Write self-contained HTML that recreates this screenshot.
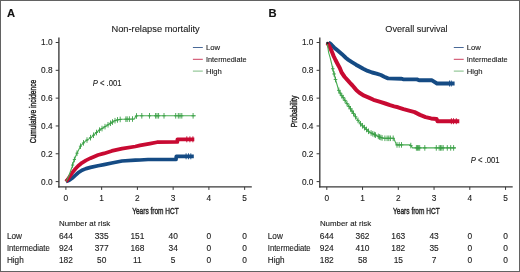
<!DOCTYPE html>
<html><head><meta charset="utf-8"><style>
html,body{margin:0;padding:0;background:#fff;}
body{width:520px;height:272px;overflow:hidden;}
svg{display:block;font-family:"Liberation Sans", sans-serif;will-change:transform;}
</style></head><body>
<svg width="520" height="272" viewBox="0 0 520 272">
<rect x="0" y="0" width="520" height="272" fill="#fff"/>
<path d="M58.9 37.4 V187.6" stroke="#383838" stroke-width="1.35" fill="none"/>
<path d="M58.2 186.9 H251.8" stroke="#383838" stroke-width="1.35" fill="none"/>
<text x="52.6" y="184.55" font-size="8.3" text-anchor="end" fill="#222" stroke="#222" stroke-width="0.12">0.0</text>
<text x="52.6" y="156.73" font-size="8.3" text-anchor="end" fill="#222" stroke="#222" stroke-width="0.12">0.2</text>
<text x="52.6" y="128.91" font-size="8.3" text-anchor="end" fill="#222" stroke="#222" stroke-width="0.12">0.4</text>
<text x="52.6" y="101.09" font-size="8.3" text-anchor="end" fill="#222" stroke="#222" stroke-width="0.12">0.6</text>
<text x="52.6" y="73.27" font-size="8.3" text-anchor="end" fill="#222" stroke="#222" stroke-width="0.12">0.8</text>
<text x="52.6" y="45.45" font-size="8.3" text-anchor="end" fill="#222" stroke="#222" stroke-width="0.12">1.0</text>
<text x="65.9" y="200.5" font-size="8.3" text-anchor="middle" fill="#222" stroke="#222" stroke-width="0.12">0</text>
<text x="101.65" y="200.5" font-size="8.3" text-anchor="middle" fill="#222" stroke="#222" stroke-width="0.12">1</text>
<text x="137.4" y="200.5" font-size="8.3" text-anchor="middle" fill="#222" stroke="#222" stroke-width="0.12">2</text>
<text x="173.15" y="200.5" font-size="8.3" text-anchor="middle" fill="#222" stroke="#222" stroke-width="0.12">3</text>
<text x="208.9" y="200.5" font-size="8.3" text-anchor="middle" fill="#222" stroke="#222" stroke-width="0.12">4</text>
<text x="244.65" y="200.5" font-size="8.3" text-anchor="middle" fill="#222" stroke="#222" stroke-width="0.12">5</text>
<path d="M55.7 181.6 H58.9 M55.7 153.78 H58.9 M55.7 125.96 H58.9 M55.7 98.14 H58.9 M55.7 70.32 H58.9 M55.7 42.5 H58.9 M65.9 186.9 V189.9 M101.65 186.9 V189.9 M137.4 186.9 V189.9 M173.15 186.9 V189.9 M208.9 186.9 V189.9 M244.65 186.9 V189.9" stroke="#383838" stroke-width="1" fill="none"/>
<text x="132.2" y="213.8" font-size="9.6" textLength="46.6" lengthAdjust="spacingAndGlyphs" fill="#222" stroke="#222" stroke-width="0.4">Years from HCT</text>
<g transform="translate(36 111.5) rotate(-90)"><text x="0" y="0" font-size="9.5" text-anchor="middle" textLength="63.5" lengthAdjust="spacingAndGlyphs" fill="#222" stroke="#222" stroke-width="0.4">Cumulative incidence</text></g>
<text x="155.6" y="31.9" font-size="9.9" text-anchor="middle" textLength="88.2" lengthAdjust="spacingAndGlyphs" fill="#222" stroke="#222" stroke-width="0.12">Non-relapse mortality</text>
<path d="M192.9 47.5 H202.8" stroke="#4a6a98" stroke-width="1.0" fill="none"/>
<text x="205.9" y="50.1" font-size="7.7" fill="#222" stroke="#222" stroke-width="0.12">Low</text>
<path d="M192.9 59.3 H202.8" stroke="#cc3f5e" stroke-width="1.0" fill="none"/>
<text x="205.9" y="61.9" font-size="7.7" textLength="40.8" lengthAdjust="spacingAndGlyphs" fill="#222" stroke="#222" stroke-width="0.12">Intermediate</text>
<path d="M192.9 71.1 H202.8" stroke="#7fbd83" stroke-width="1.0" fill="none"/>
<text x="205.9" y="73.7" font-size="7.7" fill="#222" stroke="#222" stroke-width="0.12">High</text>
<path d="M65.9 181.6 L68 180.8 L70.2 179.6 L72.3 178 L75.5 175.2 L78.1 172.8 L82 170.2 L86 168.6 L90.5 167.4 L98 165.7 L104 164.6 L111.8 163 L122 161 L135.3 160.2 L140 160 L148 159.5 L176 159.5 L176.3 156.3 L193.8 156.3" fill="none" stroke="#154b84" stroke-width="3.7" stroke-linejoin="round" stroke-linecap="butt"/>
<path d="M65.9 181.6 L67.5 179.8 L69.4 176.9 L71.1 174.4 L72.8 172 L75.5 168.8 L78.1 166 L82 162.8 L86 160.4 L90.5 158.2 L98 155 L104 153.4 L111.8 150.9 L122 148.6 L135.3 146.5 L140 145.4 L150 143.6 L157 142.2 L177.4 142 L177.4 139.3 L194.3 139.3" fill="none" stroke="#c80a32" stroke-width="3.7" stroke-linejoin="round" stroke-linecap="butt"/>
<path d="M65.9 181.6 L67.2 179.2 L69 175.5 L70.6 171 L72.2 166.5 L73.6 161.5 L75 158 L76.6 154 L78.6 150 L80.6 146 L83 143.3 L86 140.7 L89.2 138.6 L92 136.6 L94.1 134.7 L98.2 131 L102.4 128.3 L106.5 125.7 L110.6 123.2 L114 121.1 L117 120 L121 119.3 L134.5 119 L135.6 116.3 L137 115.8 L195.8 115.8" fill="none" stroke="#48ad52" stroke-width="1.1" stroke-linejoin="round" stroke-linecap="butt"/>
<path d="M72.6 162.27 V167.87 M71 165.07 H74.2 M74.4 156.7 V162.3 M72.8 159.5 H76 M77 150.4 V156 M75.4 153.2 H78.6 M80.5 143.4 V149 M78.9 146.2 H82.1 M83.5 140.07 V145.67 M81.9 142.87 H85.1 M87 137.24 V142.84 M85.4 140.04 H88.6 M90.5 134.87 V140.47 M88.9 137.67 H92.1 M93.5 132.44 V138.04 M91.9 135.24 H95.1 M96.5 129.73 V135.33 M94.9 132.53 H98.1 M99.5 127.36 V132.96 M97.9 130.16 H101.1 M102 125.76 V131.36 M100.4 128.56 H103.6 M105 123.85 V129.45 M103.4 126.65 H106.6 M108 121.99 V127.59 M106.4 124.79 H109.6 M110.5 120.46 V126.06 M108.9 123.26 H112.1 M112.5 119.23 V124.83 M110.9 122.03 H114.1 M115 117.93 V123.53 M113.4 120.73 H116.6 M117.5 117.11 V122.71 M115.9 119.91 H119.1 M120.2 116.64 V122.24 M118.6 119.44 H121.8 M125.9 116.39 V121.99 M124.3 119.19 H127.5 M127.2 116.36 V121.96 M125.6 119.16 H128.8 M129.4 116.31 V121.91 M127.8 119.11 H131 M132.5 116.24 V121.84 M130.9 119.04 H134.1 M136.5 113.18 V118.78 M134.9 115.98 H138.1 M141.8 113 V118.6 M140.2 115.8 H143.4 M149.5 113 V118.6 M147.9 115.8 H151.1 M155.6 113 V118.6 M154 115.8 H157.2 M157 113 V118.6 M155.4 115.8 H158.6 M158.6 113 V118.6 M157 115.8 H160.2 M164 113 V118.6 M162.4 115.8 H165.6 M175.7 113 V118.6 M174.1 115.8 H177.3 M178.3 113 V118.6 M176.7 115.8 H179.9 M180 113 V118.6 M178.4 115.8 H181.6 M181.8 113 V118.6 M180.2 115.8 H183.4 M193.1 113 V118.6 M191.5 115.8 H194.7" stroke="#3a9f46" stroke-width="0.9" fill="none"/>
<path d="M186.8 136.3 V142.3 M189.9 136.3 V142.3 M192.9 136.3 V142.3" stroke="#c80a32" stroke-width="0.9" fill="none"/>
<path d="M186.1 153.3 V159.3 M188.5 153.3 V159.3 M190.8 153.3 V159.3" stroke="#154b84" stroke-width="0.9" fill="none"/>
<text x="92.7" y="85.8" font-size="8.3" fill="#222" stroke="#222" stroke-width="0.12" textLength="28.8" lengthAdjust="spacingAndGlyphs"><tspan font-style="italic">P</tspan> &lt; .001</text>
<text x="59" y="226" font-size="7.9" fill="#222" stroke="#222" stroke-width="0.12">Number at risk</text>
<text x="6.9" y="238.6" font-size="8.2" fill="#222" stroke="#222" stroke-width="0.12">Low</text>
<text x="65.9" y="238.6" font-size="8.4" text-anchor="middle" fill="#222" stroke="#222" stroke-width="0.12">644</text>
<text x="101.65" y="238.6" font-size="8.4" text-anchor="middle" fill="#222" stroke="#222" stroke-width="0.12">335</text>
<text x="137.4" y="238.6" font-size="8.4" text-anchor="middle" fill="#222" stroke="#222" stroke-width="0.12">151</text>
<text x="173.15" y="238.6" font-size="8.4" text-anchor="middle" fill="#222" stroke="#222" stroke-width="0.12">40</text>
<text x="208.9" y="238.6" font-size="8.4" text-anchor="middle" fill="#222" stroke="#222" stroke-width="0.12">0</text>
<text x="244.65" y="238.6" font-size="8.4" text-anchor="middle" fill="#222" stroke="#222" stroke-width="0.12">0</text>
<text x="6.9" y="250.55" font-size="8.2" textLength="42.8" lengthAdjust="spacingAndGlyphs" fill="#222" stroke="#222" stroke-width="0.12">Intermediate</text>
<text x="65.9" y="250.55" font-size="8.4" text-anchor="middle" fill="#222" stroke="#222" stroke-width="0.12">924</text>
<text x="101.65" y="250.55" font-size="8.4" text-anchor="middle" fill="#222" stroke="#222" stroke-width="0.12">377</text>
<text x="137.4" y="250.55" font-size="8.4" text-anchor="middle" fill="#222" stroke="#222" stroke-width="0.12">168</text>
<text x="173.15" y="250.55" font-size="8.4" text-anchor="middle" fill="#222" stroke="#222" stroke-width="0.12">34</text>
<text x="208.9" y="250.55" font-size="8.4" text-anchor="middle" fill="#222" stroke="#222" stroke-width="0.12">0</text>
<text x="244.65" y="250.55" font-size="8.4" text-anchor="middle" fill="#222" stroke="#222" stroke-width="0.12">0</text>
<text x="6.9" y="262.5" font-size="8.2" fill="#222" stroke="#222" stroke-width="0.12">High</text>
<text x="65.9" y="262.5" font-size="8.4" text-anchor="middle" fill="#222" stroke="#222" stroke-width="0.12">182</text>
<text x="101.65" y="262.5" font-size="8.4" text-anchor="middle" fill="#222" stroke="#222" stroke-width="0.12">50</text>
<text x="137.4" y="262.5" font-size="8.4" text-anchor="middle" fill="#222" stroke="#222" stroke-width="0.12">11</text>
<text x="173.15" y="262.5" font-size="8.4" text-anchor="middle" fill="#222" stroke="#222" stroke-width="0.12">5</text>
<text x="208.9" y="262.5" font-size="8.4" text-anchor="middle" fill="#222" stroke="#222" stroke-width="0.12">0</text>
<text x="244.65" y="262.5" font-size="8.4" text-anchor="middle" fill="#222" stroke="#222" stroke-width="0.12">0</text>
<path d="M319.8 37.4 V187.6" stroke="#383838" stroke-width="1.35" fill="none"/>
<path d="M319.1 186.9 H512.7" stroke="#383838" stroke-width="1.35" fill="none"/>
<text x="313.5" y="184.55" font-size="8.3" text-anchor="end" fill="#222" stroke="#222" stroke-width="0.12">0.0</text>
<text x="313.5" y="156.73" font-size="8.3" text-anchor="end" fill="#222" stroke="#222" stroke-width="0.12">0.2</text>
<text x="313.5" y="128.91" font-size="8.3" text-anchor="end" fill="#222" stroke="#222" stroke-width="0.12">0.4</text>
<text x="313.5" y="101.09" font-size="8.3" text-anchor="end" fill="#222" stroke="#222" stroke-width="0.12">0.6</text>
<text x="313.5" y="73.27" font-size="8.3" text-anchor="end" fill="#222" stroke="#222" stroke-width="0.12">0.8</text>
<text x="313.5" y="45.45" font-size="8.3" text-anchor="end" fill="#222" stroke="#222" stroke-width="0.12">1.0</text>
<text x="326.8" y="200.5" font-size="8.3" text-anchor="middle" fill="#222" stroke="#222" stroke-width="0.12">0</text>
<text x="362.55" y="200.5" font-size="8.3" text-anchor="middle" fill="#222" stroke="#222" stroke-width="0.12">1</text>
<text x="398.3" y="200.5" font-size="8.3" text-anchor="middle" fill="#222" stroke="#222" stroke-width="0.12">2</text>
<text x="434.05" y="200.5" font-size="8.3" text-anchor="middle" fill="#222" stroke="#222" stroke-width="0.12">3</text>
<text x="469.8" y="200.5" font-size="8.3" text-anchor="middle" fill="#222" stroke="#222" stroke-width="0.12">4</text>
<text x="505.55" y="200.5" font-size="8.3" text-anchor="middle" fill="#222" stroke="#222" stroke-width="0.12">5</text>
<path d="M316.6 181.6 H319.8 M316.6 153.78 H319.8 M316.6 125.96 H319.8 M316.6 98.14 H319.8 M316.6 70.32 H319.8 M316.6 42.5 H319.8 M326.8 186.9 V189.9 M362.55 186.9 V189.9 M398.3 186.9 V189.9 M434.05 186.9 V189.9 M469.8 186.9 V189.9 M505.55 186.9 V189.9" stroke="#383838" stroke-width="1" fill="none"/>
<text x="393.1" y="213.8" font-size="9.6" textLength="46.6" lengthAdjust="spacingAndGlyphs" fill="#222" stroke="#222" stroke-width="0.4">Years from HCT</text>
<g transform="translate(296.9 111.5) rotate(-90)"><text x="0" y="0" font-size="9.5" text-anchor="middle" textLength="31.7" lengthAdjust="spacingAndGlyphs" fill="#222" stroke="#222" stroke-width="0.4">Probability</text></g>
<text x="416.5" y="31.9" font-size="9.9" text-anchor="middle" textLength="62.3" lengthAdjust="spacingAndGlyphs" fill="#222" stroke="#222" stroke-width="0.12">Overall survival</text>
<path d="M453.8 47.5 H463.7" stroke="#4a6a98" stroke-width="1.0" fill="none"/>
<text x="466.8" y="50.1" font-size="7.7" fill="#222" stroke="#222" stroke-width="0.12">Low</text>
<path d="M453.8 59.3 H463.7" stroke="#cc3f5e" stroke-width="1.0" fill="none"/>
<text x="466.8" y="61.9" font-size="7.7" textLength="40.8" lengthAdjust="spacingAndGlyphs" fill="#222" stroke="#222" stroke-width="0.12">Intermediate</text>
<path d="M453.8 71.1 H463.7" stroke="#7fbd83" stroke-width="1.0" fill="none"/>
<text x="466.8" y="73.7" font-size="7.7" fill="#222" stroke="#222" stroke-width="0.12">High</text>
<path d="M328.5 42.8 L330 43.4 L331.5 44.8 L334 47.4 L338 50.8 L342 54.2 L346 58 L348.4 59.9 L351.9 62.2 L356 64.7 L358.8 66.3 L363.2 68.8 L367.7 70.9 L372.1 72.5 L376.5 73.6 L380.9 75 L384.2 76.7 L388 78.4 L401 78.7 L403 79.2 L417 79.4 L419 80.2 L432 80.3 L434 81.6 L437 83.5 L454.6 83.5" fill="none" stroke="#154b84" stroke-width="3.9" stroke-linejoin="round" stroke-linecap="butt"/>
<path d="M327.3 42.9 L328.9 45.5 L330.5 48.6 L332 52 L333.6 56 L335.5 60 L337.6 64 L339.8 68 L341.6 72.5 L344.7 77 L348 80.7 L350 82.9 L352.5 85.5 L354.7 88.1 L356.5 90.3 L359.4 92.8 L364.1 95.7 L368.8 97.6 L373.5 99.8 L379.4 101.7 L385.3 103.5 L390 105.2 L394.1 106.4 L398 107.3 L403.5 109.1 L409 110.6 L414.6 112.1 L420 114.9 L425.6 117.1 L431.1 118.4 L436.5 118.9 L437.5 121.2 L459.3 121.2" fill="none" stroke="#c80a32" stroke-width="4.0" stroke-linejoin="round" stroke-linecap="butt"/>
<path d="M326.7 42.5 L327.5 44.6 L328.6 52.3 L330.2 57.8 L331.8 64.5 L333.1 70 L335.5 79.5 L337.6 86.5 L338.4 89.5 L340.6 94 L343.8 98.5 L346.6 103 L349.6 107.4 L352.7 112.2 L356.5 118.3 L360.8 124.2 L365.2 128.3 L369.6 132.3 L374.4 134.5 L376.6 135.6 L380 137.2 L383.2 138.3 L393.7 138.3 L396.5 144.9 L410.3 144.9 L412.5 147.9 L456 147.9" fill="none" stroke="#48ad52" stroke-width="1.1" stroke-linejoin="round" stroke-linecap="butt"/>
<path d="M332.8 65.93 V71.53 M331 68.73 H334.6 M334.1 71.16 V76.76 M332.3 73.96 H335.9 M335.5 76.7 V82.3 M333.7 79.5 H337.3 M338.8 87.52 V93.12 M337 90.32 H340.6 M340.2 90.38 V95.98 M338.4 93.18 H342 M341.8 92.89 V98.49 M340 95.69 H343.6 M343.2 94.86 V100.46 M341.4 97.66 H345 M345 97.63 V103.23 M343.2 100.43 H346.8 M347 100.79 V106.39 M345.2 103.59 H348.8 M349 103.72 V109.32 M347.2 106.52 H350.8 M350.5 105.99 V111.59 M348.7 108.79 H352.3 M352 108.32 V113.92 M350.2 111.12 H353.8 M353.5 110.68 V116.28 M351.7 113.48 H355.3 M355.5 113.89 V119.49 M353.7 116.69 H357.3 M358 117.56 V123.16 M356.2 120.36 H359.8 M360.5 120.99 V126.59 M358.7 123.79 H362.3 M362.5 122.98 V128.58 M360.7 125.78 H364.3 M364.5 124.85 V130.45 M362.7 127.65 H366.3 M366.5 126.68 V132.28 M364.7 129.48 H368.3 M368.5 128.5 V134.1 M366.7 131.3 H370.3 M371.1 130.19 V135.79 M369.3 132.99 H372.9 M372.8 130.97 V136.57 M371 133.77 H374.6 M374.4 131.7 V137.3 M372.6 134.5 H376.2 M375.5 132.25 V137.85 M373.7 135.05 H377.3 M378.3 133.6 V139.2 M376.5 136.4 H380.1 M379.5 134.16 V139.76 M377.7 136.96 H381.3 M380.8 134.67 V140.28 M379 137.47 H382.6 M382.1 135.12 V140.72 M380.3 137.92 H383.9 M384.9 135.5 V141.1 M383.1 138.3 H386.7 M387.1 135.5 V141.1 M385.3 138.3 H388.9 M388.8 135.5 V141.1 M387 138.3 H390.6 M390.4 135.5 V141.1 M388.6 138.3 H392.2 M393.2 135.5 V141.1 M391.4 138.3 H395 M397 142.1 V147.7 M395.2 144.9 H398.8 M399.2 142.1 V147.7 M397.4 144.9 H401 M401.5 142.1 V147.7 M399.7 144.9 H403.3 M410.8 142.78 V148.38 M409 145.58 H412.6 M416.4 145.1 V150.7 M414.6 147.9 H418.2 M417.5 145.1 V150.7 M415.7 147.9 H419.3 M418.6 145.1 V150.7 M416.8 147.9 H420.4 M419.7 145.1 V150.7 M417.9 147.9 H421.5 M424.8 145.1 V150.7 M423 147.9 H426.6 M436.3 145.1 V150.7 M434.5 147.9 H438.1 M439.2 145.1 V150.7 M437.4 147.9 H441 M440.5 145.1 V150.7 M438.7 147.9 H442.3 M441.8 145.1 V150.7 M440 147.9 H443.6 M443.2 145.1 V150.7 M441.4 147.9 H445 M447.3 145.1 V150.7 M445.5 147.9 H449.1 M450.7 145.1 V150.7 M448.9 147.9 H452.5 M453.6 145.1 V150.7 M451.8 147.9 H455.4" stroke="#3a9f46" stroke-width="0.9" fill="none"/>
<path d="M451.4 118.2 V124.2 M453.5 118.2 V124.2 M456.3 118.2 V124.2" stroke="#c80a32" stroke-width="0.9" fill="none"/>
<path d="M449.5 80.5 V86.5 M451.3 80.5 V86.5" stroke="#154b84" stroke-width="0.9" fill="none"/>
<circle cx="327.4" cy="43" r="1.2" fill="#2a1a2a"/>
<text x="470.8" y="162.7" font-size="8.3" fill="#222" stroke="#222" stroke-width="0.12" textLength="28.8" lengthAdjust="spacingAndGlyphs"><tspan font-style="italic">P</tspan> &lt; .001</text>
<text x="319.9" y="226" font-size="7.9" fill="#222" stroke="#222" stroke-width="0.12">Number at risk</text>
<text x="267.8" y="238.6" font-size="8.2" fill="#222" stroke="#222" stroke-width="0.12">Low</text>
<text x="326.8" y="238.6" font-size="8.4" text-anchor="middle" fill="#222" stroke="#222" stroke-width="0.12">644</text>
<text x="362.55" y="238.6" font-size="8.4" text-anchor="middle" fill="#222" stroke="#222" stroke-width="0.12">362</text>
<text x="398.3" y="238.6" font-size="8.4" text-anchor="middle" fill="#222" stroke="#222" stroke-width="0.12">163</text>
<text x="434.05" y="238.6" font-size="8.4" text-anchor="middle" fill="#222" stroke="#222" stroke-width="0.12">43</text>
<text x="469.8" y="238.6" font-size="8.4" text-anchor="middle" fill="#222" stroke="#222" stroke-width="0.12">0</text>
<text x="505.55" y="238.6" font-size="8.4" text-anchor="middle" fill="#222" stroke="#222" stroke-width="0.12">0</text>
<text x="267.8" y="250.55" font-size="8.2" textLength="42.8" lengthAdjust="spacingAndGlyphs" fill="#222" stroke="#222" stroke-width="0.12">Intermediate</text>
<text x="326.8" y="250.55" font-size="8.4" text-anchor="middle" fill="#222" stroke="#222" stroke-width="0.12">924</text>
<text x="362.55" y="250.55" font-size="8.4" text-anchor="middle" fill="#222" stroke="#222" stroke-width="0.12">410</text>
<text x="398.3" y="250.55" font-size="8.4" text-anchor="middle" fill="#222" stroke="#222" stroke-width="0.12">182</text>
<text x="434.05" y="250.55" font-size="8.4" text-anchor="middle" fill="#222" stroke="#222" stroke-width="0.12">35</text>
<text x="469.8" y="250.55" font-size="8.4" text-anchor="middle" fill="#222" stroke="#222" stroke-width="0.12">0</text>
<text x="505.55" y="250.55" font-size="8.4" text-anchor="middle" fill="#222" stroke="#222" stroke-width="0.12">0</text>
<text x="267.8" y="262.5" font-size="8.2" fill="#222" stroke="#222" stroke-width="0.12">High</text>
<text x="326.8" y="262.5" font-size="8.4" text-anchor="middle" fill="#222" stroke="#222" stroke-width="0.12">182</text>
<text x="362.55" y="262.5" font-size="8.4" text-anchor="middle" fill="#222" stroke="#222" stroke-width="0.12">58</text>
<text x="398.3" y="262.5" font-size="8.4" text-anchor="middle" fill="#222" stroke="#222" stroke-width="0.12">15</text>
<text x="434.05" y="262.5" font-size="8.4" text-anchor="middle" fill="#222" stroke="#222" stroke-width="0.12">7</text>
<text x="469.8" y="262.5" font-size="8.4" text-anchor="middle" fill="#222" stroke="#222" stroke-width="0.12">0</text>
<text x="505.55" y="262.5" font-size="8.4" text-anchor="middle" fill="#222" stroke="#222" stroke-width="0.12">0</text>
<text x="7" y="16.5" font-size="11.2" font-weight="bold" fill="#111" stroke="#111" stroke-width="0.12">A</text>
<text x="268.6" y="17" font-size="11.2" font-weight="bold" fill="#111" stroke="#111" stroke-width="0.12">B</text>
<rect x="0.5" y="0.5" width="519" height="271" fill="none" stroke="#626262" stroke-width="1"/>
</svg>
</body></html>
